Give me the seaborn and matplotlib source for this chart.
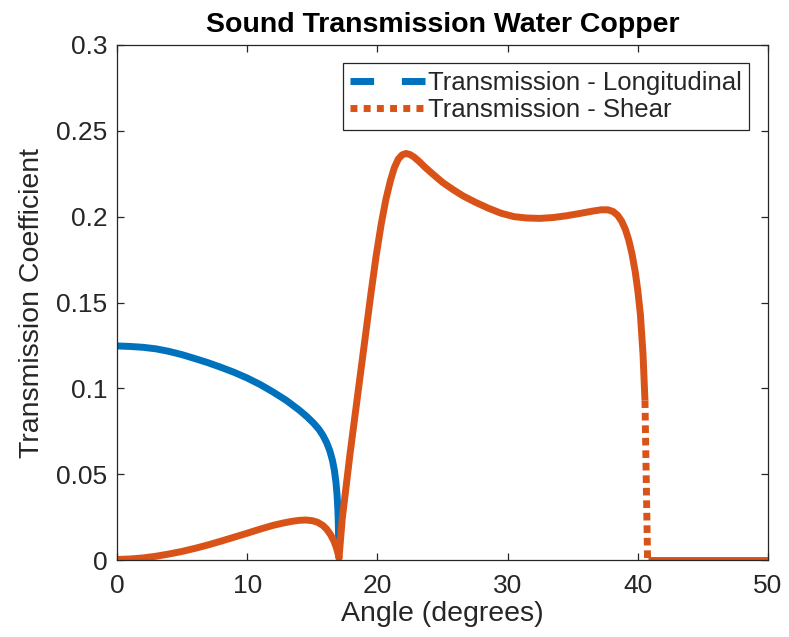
import matplotlib
matplotlib.use("Agg")
import matplotlib.pyplot as plt
import seaborn as sns
import pandas as pd
from matplotlib.lines import Line2D

# ---- data ----
long_angle = [0.0, 1.0, 2.0, 3.0, 4.0, 5.0, 6.0, 7.0, 8.0, 9.0, 10.0, 11.0, 12.0,
              13.0, 14.0, 14.6, 15.1, 15.5, 15.8, 16.1, 16.35, 16.55, 16.7, 16.82,
              16.9, 16.96, 17.0, 17.03]
long_value = [0.1247, 0.1244, 0.1239, 0.1230, 0.1215, 0.1196, 0.1173, 0.1149, 0.1122,
              0.1093, 0.1060, 0.1022, 0.0978, 0.0930, 0.0873, 0.0834, 0.0797, 0.0762,
              0.0728, 0.0684, 0.0635, 0.0580, 0.0520, 0.0450, 0.0380, 0.0300, 0.0210,
              0.0090]

shear_angle = [0.0, 1.0, 2.0, 3.0, 4.0, 5.0, 6.0, 7.0, 8.0, 9.0, 10.0, 11.0, 12.0,
               12.8, 13.5, 14.0, 14.5, 15.0, 15.4, 15.8, 16.1, 16.4, 16.65, 16.85, 17.0,
               17.05, 17.3, 17.9, 18.5, 19.0, 19.5, 19.9, 20.3, 20.65, 21.0, 21.3,
               21.6, 21.9, 22.2, 22.5, 22.8, 23.2, 23.7, 24.3, 25.0, 25.8, 26.6, 27.5,
               28.5, 29.5, 30.5, 31.5, 32.5, 33.5, 34.5, 35.5, 36.5, 37.2, 37.7, 38.1,
               38.45, 38.75, 39.05, 39.3, 39.55, 39.8, 40.0, 40.2, 40.4, 40.55]
shear_value = [0.0003, 0.0006, 0.0012, 0.0022, 0.0035, 0.0050, 0.0068, 0.0088, 0.0110,
               0.0133, 0.0156, 0.0180, 0.0202, 0.0216, 0.0226, 0.0231, 0.0233, 0.0229,
               0.0220, 0.0202, 0.0180, 0.0148, 0.0112, 0.0072, 0.0030,
               0.0010, 0.0240, 0.0620, 0.0970, 0.1260, 0.1550, 0.1770, 0.1960, 0.2100,
               0.2210, 0.2285, 0.2335, 0.2360, 0.2368, 0.2362, 0.2348, 0.2322, 0.2285,
               0.2245, 0.2200, 0.2158, 0.2120, 0.2085, 0.2050, 0.2020, 0.2000, 0.1992,
               0.1990, 0.1995, 0.2005, 0.2018, 0.2032, 0.2040, 0.2040, 0.2030, 0.2008,
               0.1975, 0.1925, 0.1865, 0.1785, 0.1680, 0.1570, 0.1430, 0.1200, 0.0930]

drop_angle = [40.55, 40.75]
drop_value = [0.0930, 0.0]

zero_angle = [40.75, 50.0]
zero_value = [0.0, 0.0]

x_ticks = [0, 10, 20, 30, 40, 50]
y_ticks = [0, 0.05, 0.1, 0.15, 0.2, 0.25, 0.3]
y_tick_labels = ["0", "0.05", "0.1", "0.15", "0.2", "0.25", "0.3"]

title = "Sound Transmission Water Copper"
x_label = "Angle (degrees)"
y_label = "Transmission Coefficient"
legend_labels = ["Transmission - Longitudinal", "Transmission - Shear"]

BLUE = "#0072BD"
ORANGE = "#D95319"
AXC = "#262626"

sns.set_theme(style="white")
plt.rcParams["font.family"] = ["Liberation Sans", "DejaVu Sans"]
plt.rcParams["lines.solid_joinstyle"] = "round"

fig = plt.figure(figsize=(7.89, 6.37), dpi=100)
ax = fig.add_axes([117 / 789, 1 - 560 / 637, (768 - 117) / 789, (560 - 45) / 637])

LW = 5.0
df_long = pd.DataFrame({"angle": long_angle, "value": long_value})
df_shear = pd.DataFrame({"angle": shear_angle, "value": shear_value})
df_drop = pd.DataFrame({"angle": drop_angle, "value": drop_value})
df_zero = pd.DataFrame({"angle": zero_angle, "value": zero_value})

sns.lineplot(data=df_long, x="angle", y="value", color=BLUE, linewidth=LW,
             estimator=None, sort=False, ax=ax, solid_capstyle="butt")
sns.lineplot(data=df_shear, x="angle", y="value", color=ORANGE, linewidth=LW,
             estimator=None, sort=False, ax=ax, solid_capstyle="butt")
sns.lineplot(data=df_drop, x="angle", y="value", color=ORANGE, linewidth=LW,
             estimator=None, sort=False, ax=ax)
ax.lines[-1].set_dashes((1.1, 0.7))
ax.lines[-1].set_dash_capstyle("butt")
sns.lineplot(data=df_zero, x="angle", y="value", color=ORANGE, linewidth=LW,
             estimator=None, sort=False, ax=ax, solid_capstyle="butt")

ax.set_xlim(0, 50)
ax.set_ylim(0, 0.3)
ax.set_xticks(x_ticks)
ax.set_xticklabels([str(t) for t in x_ticks])
ax.set_yticks(y_ticks)
ax.set_yticklabels(y_tick_labels)

for s in ax.spines.values():
    s.set_visible(True)
    s.set_color(AXC)
    s.set_linewidth(0.9)

ax.tick_params(axis="both", which="both", direction="in", length=5, width=0.9,
               colors=AXC, labelsize=19, pad=7,
               top=True, right=True, bottom=True, left=True)
ax.tick_params(axis="x", pad=10)
for lab in ax.get_xticklabels() + ax.get_yticklabels():
    lab.set_color(AXC)

ax.set_xlabel(x_label, fontsize=20.5, color=AXC, labelpad=2)
ax.set_ylabel(y_label, fontsize=20.5, color=AXC, labelpad=8)
ax.set_title(title, fontsize=20.5, fontweight="bold", color="black", pad=9)

handles = [
    Line2D([0], [0], color=BLUE, linewidth=LW, dashes=(3.4, 4.0), dash_capstyle="butt"),
    Line2D([0], [0], color=ORANGE, linewidth=LW, dashes=(1.0, 0.9), dash_capstyle="butt"),
]
leg = ax.legend(handles, legend_labels, loc="upper right",
                bbox_to_anchor=(0.971, 0.965), fontsize=18.5, frameon=True,
                fancybox=False, edgecolor=AXC, framealpha=1,
                handlelength=2.9, handletextpad=0.1, labelspacing=0.12,
                borderpad=0.3, borderaxespad=0.0)
leg.get_frame().set_linewidth(0.9)
for t in leg.get_texts():
    t.set_color(AXC)

fig.savefig("out.png", dpi=100)
